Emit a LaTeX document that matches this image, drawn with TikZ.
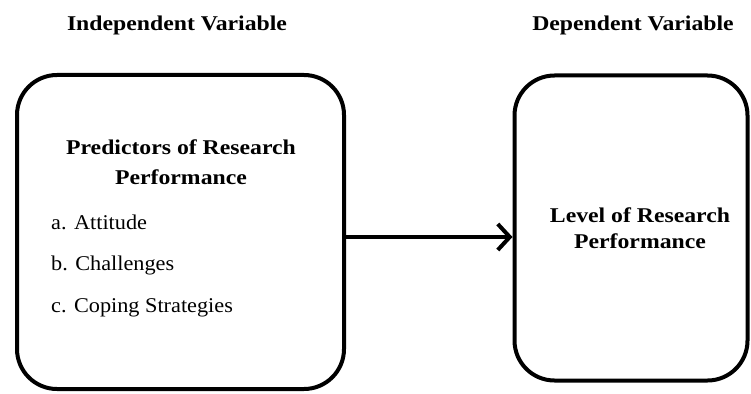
\documentclass[tikz,border=0pt]{standalone}
\usepackage{fontspec}
\setmainfont{Liberation Serif}
\newfontfamily\hdfont[FakeStretch=1.13]{Liberation Serif}
\newfontfamily\itfont[FakeStretch=1.06]{Liberation Serif}
\usetikzlibrary{arrows.meta}
\tikzset{
  box/.style={draw=black, line width=4pt, rounded corners=40pt, inner sep=0pt},
  head/.style={font=\hdfont\bfseries\fontsize{21}{25}\selectfont, inner sep=0pt},
  item/.style={font=\itfont\fontsize{21}{25}\selectfont, inner sep=0pt, anchor=west},
  conn/.style={line width=4pt, -{Straight Barb[length=12pt, width=26pt, line width=4pt]}}
}
\begin{document}
\begin{tikzpicture}[x=1pt,y=-1pt]
\useasboundingbox (0,0) rectangle (751,393);
\node[head] (iv) at (177,25) {Independent Variable};
\node[head] (dv) at (633,25) {Dependent Variable};
\node[box, minimum width=327pt, minimum height=314pt] (lbox) at (180.5,232) {};
\node[box, minimum width=233pt, minimum height=305pt] (rbox) at (631,228) {};
\node[head] (p1) at (181,147) {Predictors of Research};
\node[head] (p2) at (181,177) {Performance};
\node[item] (a) at (51,222) {a. Attitude};
\node[item] (b) at (51,265) {b. Challenges};
\node[item] (c) at (51,308) {c. Coping Strategies};
\node[head] (l1) at (640,215) {Level of Research};
\node[head] (l2) at (640,241) {Performance};
\draw[conn] (lbox.east |- 0,237) -- (rbox.west |- 0,237);
\end{tikzpicture}
\end{document}
